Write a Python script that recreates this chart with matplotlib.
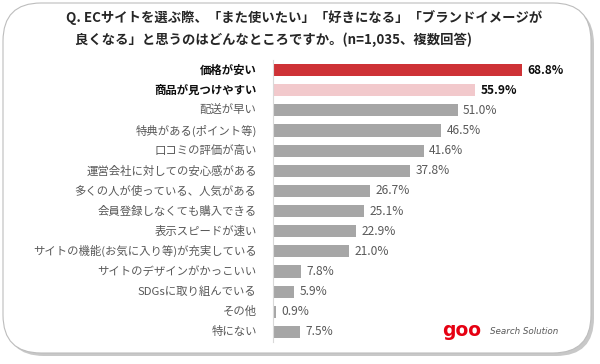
import matplotlib
matplotlib.use("Agg")
import matplotlib.pyplot as plt
from matplotlib.patches import FancyBboxPatch

plt.rcParams["font.family"] = ["Noto Sans CJK JP", "DejaVu Sans"]

categories = [
    "価格が安い", "商品が見つけやすい", "配送が早い", "特典がある(ポイント等)",
    "口コミの評価が高い", "運営会社に対しての安心感がある", "多くの人が使っている、人気がある",
    "会員登録しなくても購入できる", "表示スピードが速い", "サイトの機能(お気に入り等)が充実している",
    "サイトのデザインがかっこいい", "SDGsに取り組んでいる", "その他", "特にない",
]
values = [68.8, 55.9, 51.0, 46.5, 41.6, 37.8, 26.7, 25.1, 22.9, 21.0, 7.8, 5.9, 0.9, 7.5]
colors = ["#CE3236", "#F2C9CC"] + ["#A6A6A6"] * 12
title = ("Q. ECサイトを選ぶ際、「また使いたい」「好きになる」「ブランドイメージが\n"
         "   良くなる」と思うのはどんなところですか。(n=1,035、複数回答)")

W, H = 600, 364
fig = plt.figure(figsize=(W / 100, H / 100), dpi=100)

# rounded frame with soft shadow
bg = fig.add_axes([0, 0, 1, 1])
bg.set_xlim(0, W); bg.set_ylim(H, 0); bg.axis("off")
bg.add_patch(FancyBboxPatch((6, 6), W - 12, H - 14, boxstyle="round,pad=0,rounding_size=38",
                            fc="#C8C8C8", ec="none"))
bg.add_patch(FancyBboxPatch((3, 3), W - 12, H - 14, boxstyle="round,pad=0,rounding_size=38",
                            fc="white", ec="#BDBDBD", lw=0.8))
bg.text(66, 10, title, fontsize=9.6, fontweight="bold", va="top", ha="left",
        color="#262626", linespacing=1.6)
bg.text(442, 330, "goo", fontsize=13.5, fontweight="bold", color="#E60012",
        va="center", ha="left", family=["DejaVu Sans"])
bg.text(490, 331, "Search Solution", fontsize=6.3, style="italic", color="#595959",
        va="center", ha="left", family=["DejaVu Sans"])

# bar area
ax_left, ax_top, ax_bot, xmax = 273, 60, 342, 90
ax = fig.add_axes([ax_left / W, 1 - ax_bot / H, (xmax * 3.62) / W, (ax_bot - ax_top) / H])
ax.patch.set_alpha(0)
y = list(range(len(categories)))
ax.barh(y, values, height=0.6, color=colors)
ax.set_xlim(0, xmax)
ax.set_ylim(len(categories) - 0.5, -0.5)
for s in ["top", "right", "bottom"]:
    ax.spines[s].set_visible(False)
ax.spines["left"].set_color("#D9D9D9")
ax.set_xticks([]); ax.set_yticks([])

for i, (c, v) in enumerate(zip(categories, values)):
    bold = i < 2
    ax.text(-4.5, i, c, ha="right", va="center", fontsize=8.2,
            fontweight="bold" if bold else "normal",
            color="#0D0D0D" if bold else "#595959")
    ax.text(v + 1.5, i, f"{v:.1f}%", ha="left", va="center", fontsize=8.6,
            fontweight="bold" if bold else "normal",
            color="#0D0D0D" if bold else "#595959")

fig.savefig("out.png", dpi=100)
